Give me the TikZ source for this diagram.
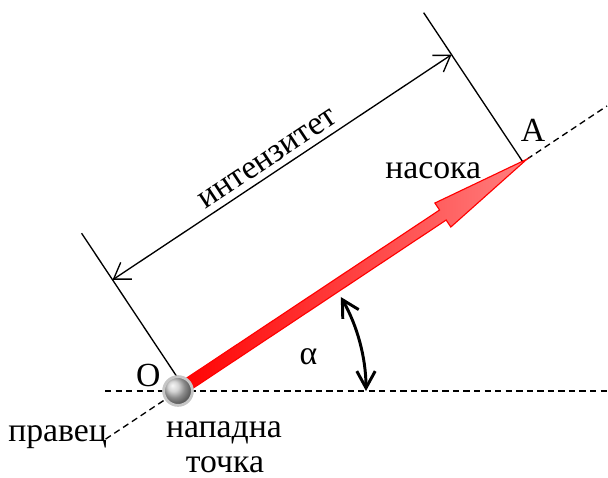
\documentclass[tikz,border=0pt]{standalone}
\usepackage{fontspec}
\setmainfont{Liberation Serif}
\usetikzlibrary{arrows.meta,calc,positioning}

\begin{document}
\begin{tikzpicture}[
    font=\fontsize{24}{28}\selectfont,
    extline/.style={line width=0.95pt},
    guide/.style={line width=0.95pt, dash pattern=on 4.5pt off 3pt},
    dim/.style={{Straight Barb[length=3.8mm,width=5mm]}-{Straight Barb[length=3.8mm,width=5mm]}, line width=0.95pt},
    swing/.style={{Straight Barb[length=4.2mm,width=4.6mm]}-{Straight Barb[length=4.2mm,width=4.6mm]}, line width=2.1pt},
    pointball/.style={circle, minimum size=0.72cm, inner sep=0pt, shading=ball, ball color=gray!45, draw=gray!45, line width=2pt},
    lbl/.style={inner sep=0pt}
  ]
  \useasboundingbox (0,0) rectangle (15.2,11.95);

  \coordinate (O) at (4.45,2.175);
  \coordinate (A) at ($(O)+(33.6:10.475)$);
  \coordinate (h1) at (2.625,2.175);
  \coordinate (h2) at (15.2,2.175);
  \coordinate (l1) at ($(O)+(213.6:2.175)$);
  \coordinate (l2) at ($(A)+(33.6:2.4)$);
  \coordinate (o1) at ($(O)+(33.6:0.175)$);
  \coordinate (o2) at ($(o1)+(123.6:4.62)$);
  \coordinate (a1) at ($(O)+(33.6:10.35)$);
  \coordinate (a2) at ($(a1)+(123.6:4.48)$);
  \coordinate (d1) at ($(o1)+(123.6:3.22)$);
  \coordinate (d2) at ($(a1)+(123.6:3.22)$);
  \coordinate (s0) at ($(O)+(0:4.7)$);

  \draw[guide] (h1) -- (h2);
  \draw[guide] (l1) -- (l2);
  \draw[extline] (o1) -- (o2);
  \draw[extline] (a1) -- (a2);
  \draw[dim] (d1) -- (d2) node[lbl, pos=0.483, sloped, above=0.15cm] (mag) {интензитет};

  \begin{scope}[shift={(O)}, rotate=33.6]
    \shade[draw=red, line width=0.8pt, left color=red, right color=red!50]
      (0,-0.15) -- (7.95,-0.15) -- (7.95,-0.36) -- (10.475,0)
      -- (7.95,0.36) -- (7.95,0.15) -- (0,0.15) -- cycle;
  \end{scope}
  \node[pointball] (ball) at (O) {};

  \draw[swing] (s0) arc[start angle=0, end angle=30, radius=4.7];

  \node[lbl] (labO) at (3.71,2.575) {O};
  \node[lbl] (labA) at (13.325,8.7) {A};
  \node[lbl, anchor=base] (dir) at (10.83,7.49) {насока};
  \node[lbl] (alpha) at (7.71,3.03) {α};
  \node[lbl, anchor=base] (line) at (1.44,0.9075) {правец};
  \node[lbl, anchor=base] (pt1) at (5.6,1.0) {нападна};
  \node[lbl, anchor=base] (pt2) at (5.625,0.13) {точка};
\end{tikzpicture}
\end{document}
